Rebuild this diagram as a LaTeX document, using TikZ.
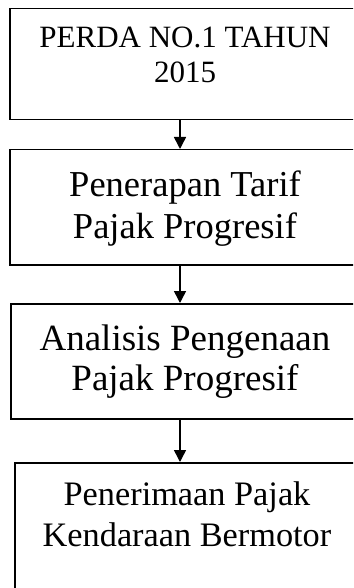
\documentclass[tikz,border=0pt]{standalone}
\usepackage{fontspec}
\setmainfont{Liberation Serif}
\usetikzlibrary{arrows.meta}
\begin{document}
\begin{tikzpicture}[x=1pt,y=-1pt,
  box/.style={draw,line width=1.5pt,rectangle,inner sep=0pt},
  txt/.style={align=center,inner sep=0pt,anchor=base},
  arr/.style={line width=1.5pt,-{Triangle[width=12pt,length=12pt]}}]
\useasboundingbox (0,0) rectangle (353,588);
\clip (0,0) rectangle (353,588);
\fill[white] (0,0) rectangle (353,588);
\node[box,minimum width=351pt,minimum height=111pt,anchor=north west] (b1) at (9,8) {};
\node[box,minimum width=351pt,minimum height=115pt,anchor=north west] (b2) at (9,149) {};
\node[box,minimum width=350pt,minimum height=115pt,anchor=north west] (b3) at (10,303) {};
\node[box,minimum width=346pt,minimum height=140pt,anchor=north west] (b4) at (14,462) {};
\node[txt,font=\fontsize{31}{35}\selectfont] (t1) at (185,83) {PERDA NO.1 TAHUN\\2015};
\node[txt,font=\fontsize{36.5}{42}\selectfont] (t2) at (185,238) {Penerapan Tarif\\Pajak Progresif};
\node[txt,font=\fontsize{37}{40}\selectfont] (t3) at (185,390) {Analisis Pengenaan\\Pajak Progresif};
\node[txt,font=\fontsize{34.3}{41}\selectfont] (t4) at (187,546) {Penerimaan Pajak\\Kendaraan Bermotor};
\coordinate (ax) at (180,0);
\draw[arr] (b1.south -| ax) -- (b2.north -| ax);
\draw[arr] (b2.south -| ax) -- (b3.north -| ax);
\draw[arr] (b3.south -| ax) -- (b4.north -| ax);
\end{tikzpicture}
\end{document}
